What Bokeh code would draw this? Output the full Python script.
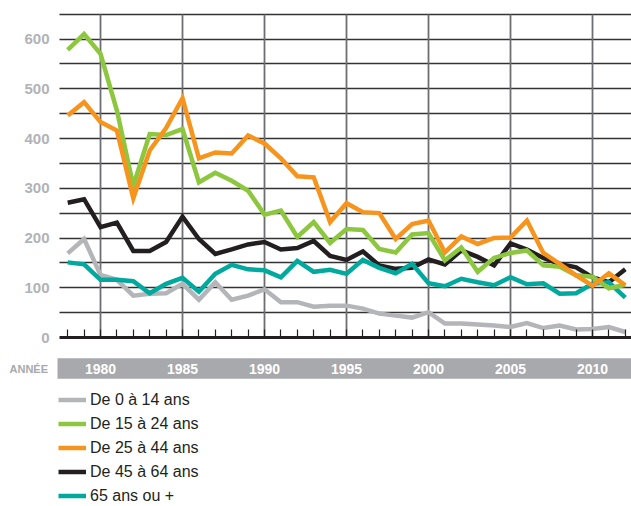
from bokeh.plotting import figure
from bokeh.models import (Range1d, FixedTicker, LinearAxis, Grid, Legend,
                          LegendItem, BoxAnnotation, Label)
from bokeh.embed import file_html
from bokeh.resources import INLINE

# ---------------- data ----------------
years = list(range(1978, 2013))
de_0_a_14 = [169, 198, 126, 116, 84, 88, 89, 108, 76, 111,
             76, 84, 97, 71, 71, 62, 64, 64, 58, 48,
             44, 40, 51, 28, 28, 26, 24, 21, 29, 19,
             24, 16, 17, 21, 11]
de_15_a_24 = [578, 610, 570, 456, 305, 409, 407, 419, 312, 331,
              315, 295, 247, 255, 202, 232, 190, 218, 216, 178,
              171, 207, 210, 155, 181, 132, 160, 170, 175, 145,
              142, 125, 122, 99, 106]
de_25_a_44 = [446, 473, 433, 416, 280, 376, 421, 481, 360, 372,
              370, 406, 390, 360, 324, 322, 232, 270, 252, 250,
              198, 228, 235, 171, 203, 188, 200, 201, 235, 170,
              148, 125, 104, 129, 105]
de_45_a_64 = [271, 278, 222, 231, 174, 174, 192, 243, 198, 168,
              177, 187, 192, 177, 180, 194, 164, 156, 173, 145,
              138, 140, 157, 147, 175, 162, 145, 189, 177, 160,
              148, 141, 121, 111, 137]
ans_65_plus = [151, 147, 116, 116, 113, 89, 108, 120, 92, 128,
               146, 137, 135, 121, 154, 132, 136, 128, 156, 140,
               129, 148, 109, 103, 118, 111, 105, 121, 107, 109,
               88, 89, 108, 111, 80]

series_labels = ["De 0 à 14 ans", "De 15 à 24 ans", "De 25 à 44 ans",
                 "De 45 à 64 ans", "65 ans ou +"]
series_colors = ["#b3b5b8", "#8dc63f", "#f7941d", "#231f20", "#00a99d"]
y_tick_values = [0, 100, 200, 300, 400, 500, 600]
y_grid_values = [50, 100, 150, 200, 250, 300, 350, 400, 450, 500, 550, 600, 650]
x_label_years = [1980, 1985, 1990, 1995, 2000, 2005, 2010]
axis_title = "ANNÉE"

# ---------------- layout constants (canvas pixels) ----------------
FIG_W, FIG_H = 631, 506
Y0_PX = 337            # pixel row of value 0
FIRST_YEAR_PX = 67.2   # pixel column of the first year
PX_PER_YEAR = 16.4
PX_PER_UNIT = 0.4975

x_start = years[0] - FIRST_YEAR_PX / PX_PER_YEAR
x_end = years[0] + (FIG_W - FIRST_YEAR_PX) / PX_PER_YEAR
y_end = Y0_PX / PX_PER_UNIT
y_start = (Y0_PX - FIG_H) / PX_PER_UNIT


def x_at(px):
    return x_start + px / PX_PER_YEAR


def y_at(py):
    return (Y0_PX - py) / PX_PER_UNIT


FONT = "Liberation Sans"

p = figure(width=FIG_W, height=FIG_H, output_backend="svg", toolbar_location=None,
           tools="", x_range=Range1d(x_start, x_end), y_range=Range1d(y_start, y_end),
           x_axis_type=None, y_axis_type=None,
           min_border_left=0, min_border_right=0,
           min_border_top=0, min_border_bottom=0)
p.outline_line_color = None
p.background_fill_color = "white"
p.border_fill_color = "white"

# gray band behind the year labels
band = BoxAnnotation(left=x_at(57), top=y_at(357.7), bottom=y_at(378.3),
                     fill_color="#a7a9ac", fill_alpha=1.0, line_color=None,
                     level="underlay")
p.add_layout(band)

# grids
hgrid = Grid(dimension=1, ticker=FixedTicker(ticks=y_grid_values),
             grid_line_color="#333333", grid_line_width=1.3,
             cross_bounds=(x_at(59), x_end))
p.add_layout(hgrid)
vgrid = Grid(dimension=0, ticker=FixedTicker(ticks=x_label_years),
             grid_line_color="#6d6e71", grid_line_width=1.8,
             cross_bounds=(0, y_grid_values[-1]))
p.add_layout(vgrid)

# axes
yaxis = LinearAxis(fixed_location=x_at(57), ticker=FixedTicker(ticks=y_tick_values),
                   axis_line_color=None, major_tick_line_color=None,
                   minor_tick_line_color=None, major_tick_in=0, major_tick_out=0,
                   minor_tick_in=0, minor_tick_out=0,
                   major_label_text_color="#b1b3b6", major_label_text_font=FONT,
                   major_label_text_font_style="bold",
                   major_label_text_font_size="15px", major_label_standoff=8)
p.add_layout(yaxis, "left")

xaxis = LinearAxis(fixed_location=0, bounds=(x_at(59), x_end),
                   ticker=FixedTicker(ticks=x_label_years, minor_ticks=years),
                   axis_line_color="#231f20", axis_line_width=3,
                   major_tick_in=0, major_tick_out=0,
                   minor_tick_in=8, minor_tick_out=0,
                   minor_tick_line_color="#231f20", minor_tick_line_width=1.2,
                   major_label_text_color="white", major_label_text_font=FONT,
                   major_label_text_font_style="bold",
                   major_label_text_font_size="14px", major_label_standoff=26)
p.add_layout(xaxis, "below")

p.add_layout(Label(x=x_at(9), y=y_at(368), text=axis_title,
                   text_font=FONT, text_font_size="11px", text_font_style="bold",
                   text_color="#a7a9ac", text_baseline="middle", text_align="left"))

# lines (drawing order: gray, black, teal, green, orange)
all_series = [de_0_a_14, de_15_a_24, de_25_a_44, de_45_a_64, ans_65_plus]
renderers = [None] * 5
for idx in [0, 3, 4, 1, 2]:
    renderers[idx] = p.line(years, all_series[idx], line_color=series_colors[idx],
                            line_width=4.5, line_join="miter")

legend = Legend(items=[LegendItem(label=lbl, renderers=[r])
                       for lbl, r in zip(series_labels, renderers)],
                location=(58, 1), orientation="vertical",
                label_text_font=FONT, label_text_font_size="16px",
                label_text_color="#231f20", glyph_width=28, glyph_height=19,
                label_height=19, label_standoff=4, spacing=5, padding=0, margin=0,
                background_fill_alpha=0, border_line_alpha=0)
p.add_layout(legend)

open("out.html", "w").write(file_html(p, INLINE))
